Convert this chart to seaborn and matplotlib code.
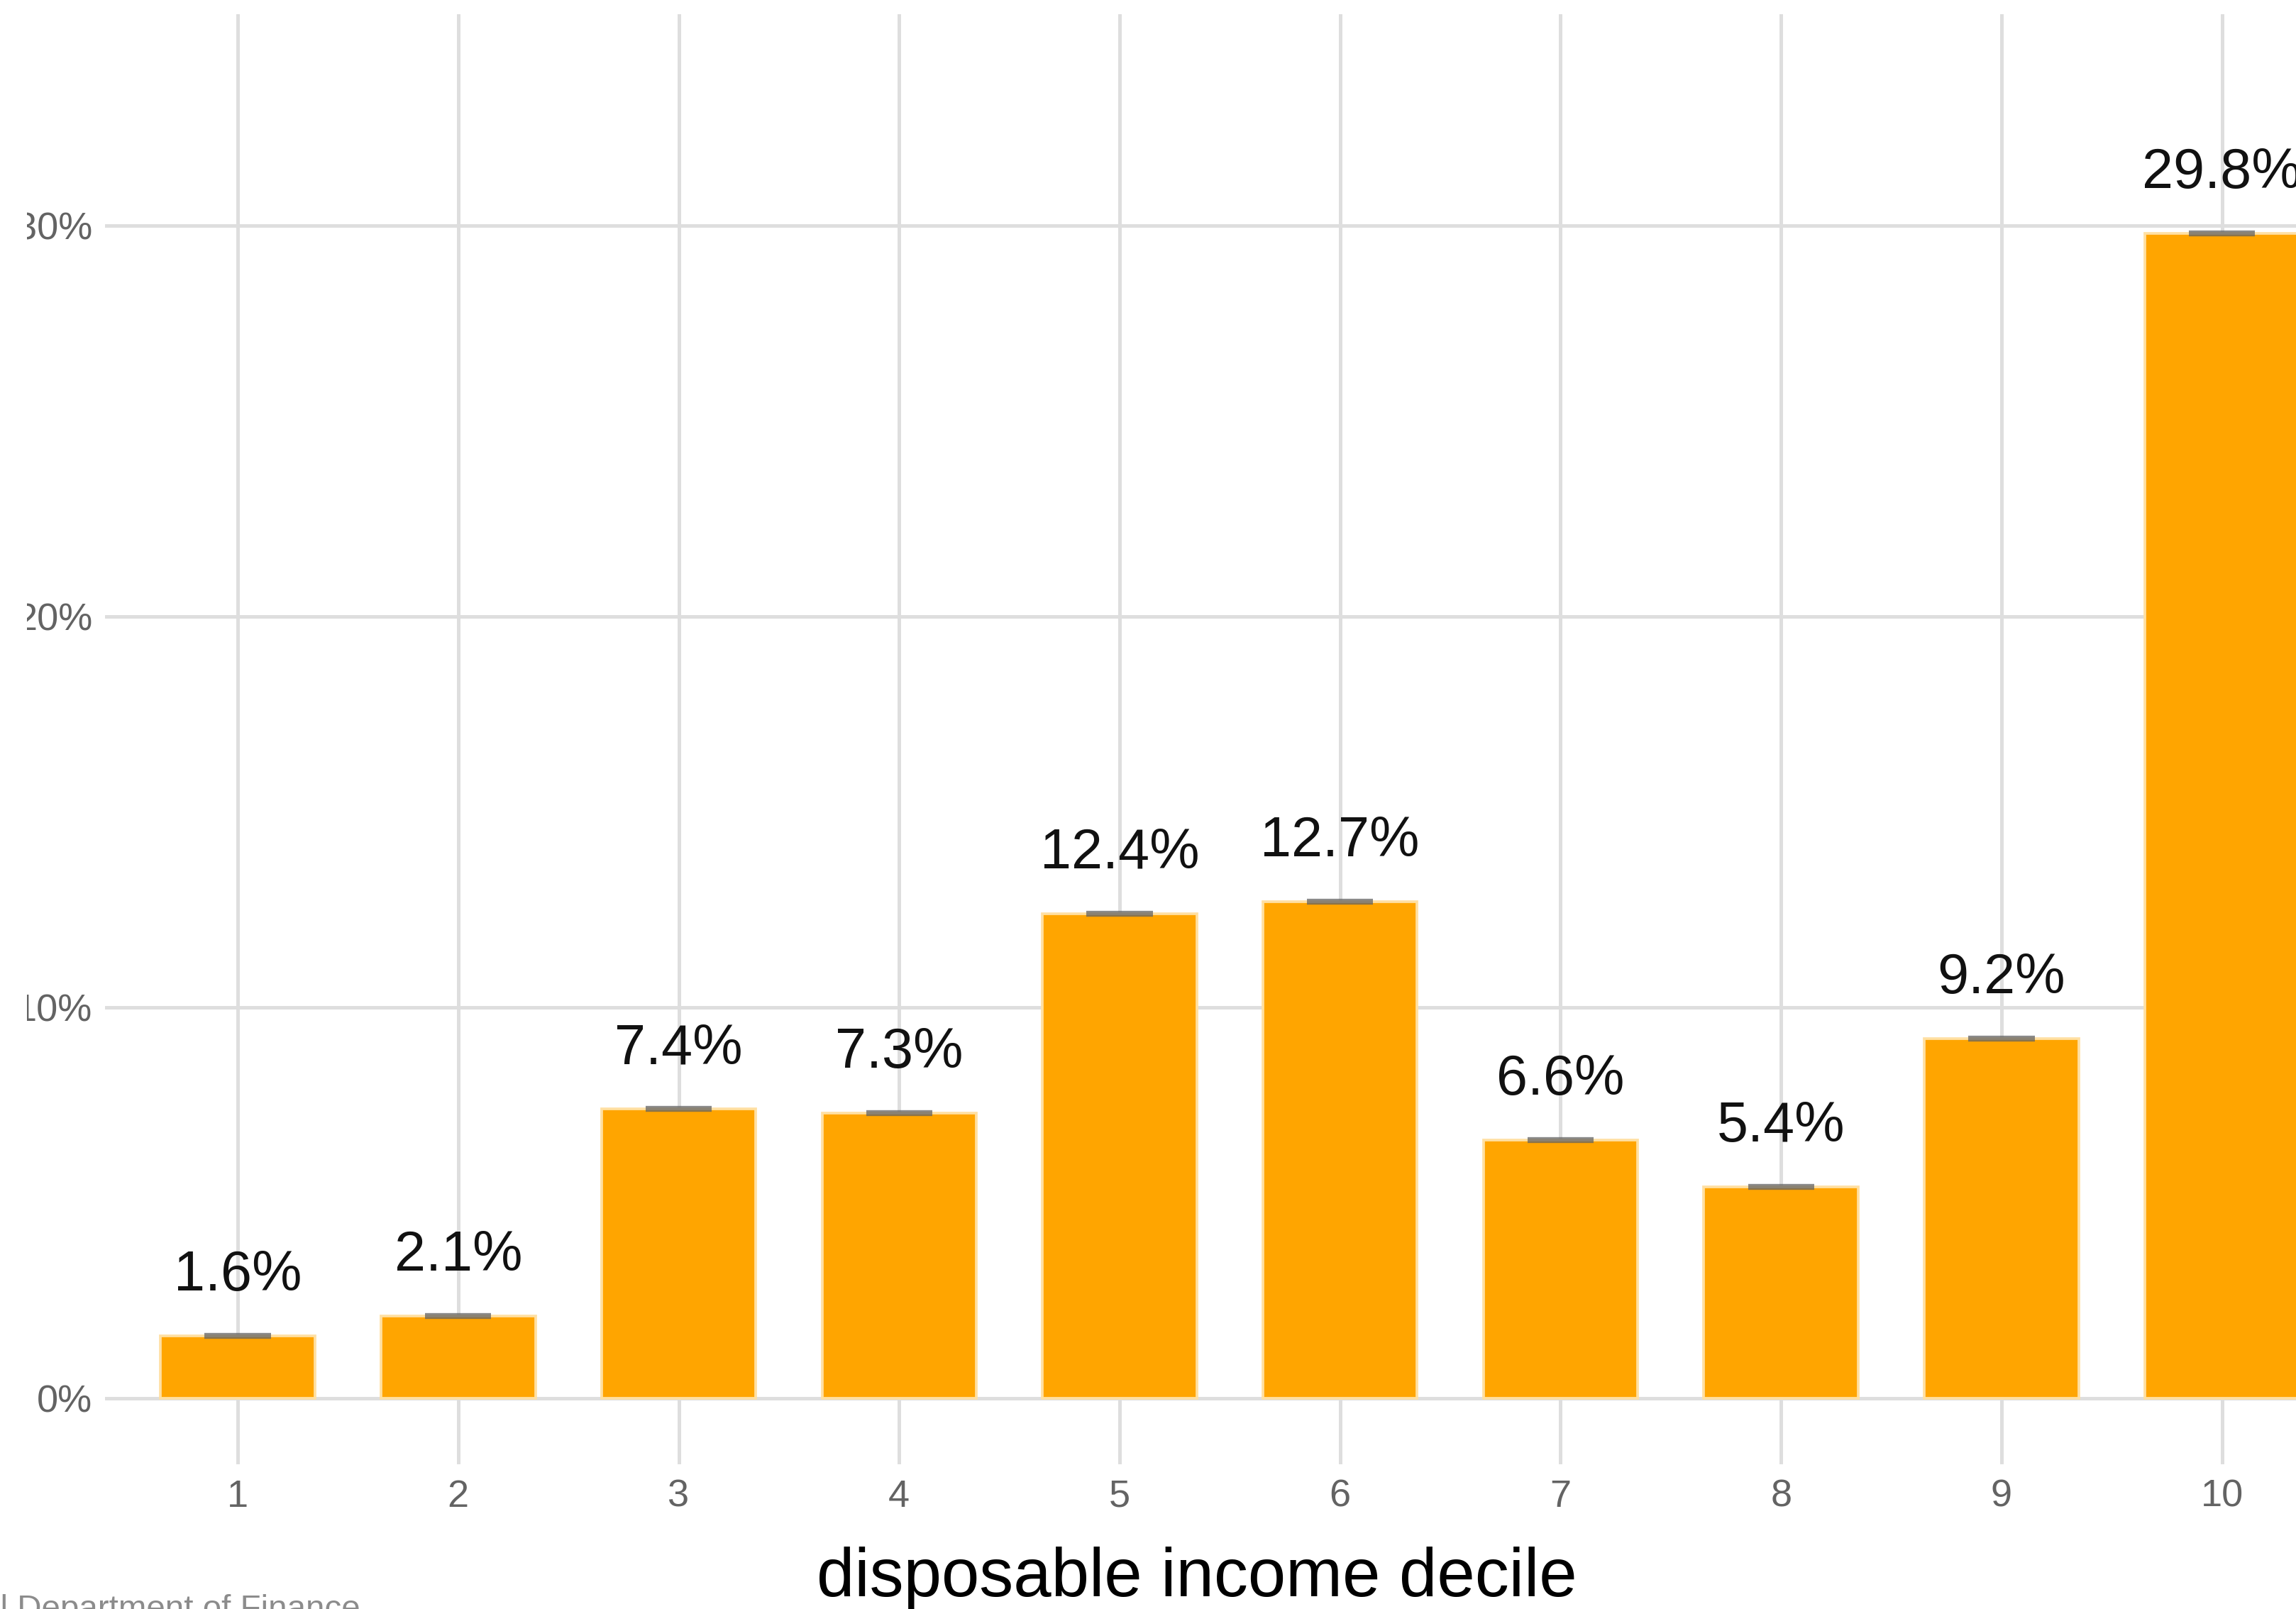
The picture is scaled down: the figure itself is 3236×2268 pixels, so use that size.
import numpy as np
import pandas as pd
import matplotlib
matplotlib.use("Agg")
import matplotlib.pyplot as plt
from matplotlib.ticker import PercentFormatter, FixedLocator
from matplotlib.transforms import Bbox, TransformedBbox
import seaborn as sns

# Share of total (%) by disposable income decile
deciles = ["1", "2", "3", "4", "5", "6", "7", "8", "9", "10"]
share = [1.6, 2.1, 7.4, 7.3, 12.4, 12.7, 6.6, 5.4, 9.2, 29.8]
y_ticks = [0, 10, 20, 30]
x_title = "disposable income decile"
source_note = "Federal Department of Finance"

df = pd.DataFrame({"decile": deciles, "share": share})

W, H, DPI = 3237, 2268, 300
sns.set_style("whitegrid")
plt.rcParams["font.family"] = ["Liberation Sans", "DejaVu Sans"]

grid_col = "#dedede"
fig = plt.figure(figsize=(W / DPI, H / DPI), dpi=DPI)
ax = fig.add_axes([148 / W, (H - 2064) / H, (W - 148) / W, (2064 - 20) / H])

sns.barplot(data=df, x="decile", y="share", order=deciles, color="#FFA500",
            saturation=1, width=0.7, edgecolor="#ffe0a3", linewidth=0.9,
            errorbar=None, ax=ax, zorder=2)

# small grey cap on top of each bar
pos = np.arange(len(deciles))
vals = np.asarray(share)
ax.hlines(vals, pos - 0.15, pos + 0.15, colors=[(0.39, 0.39, 0.39, 0.75)],
          linewidth=2.0, zorder=3)

# value labels
for p, v in zip(pos, vals):
    ax.annotate(f"{v:.1f}%", (p, v), xytext=(0, 15.4), textcoords="offset points",
                ha="center", va="baseline", fontsize=19, color="#111111", zorder=4)

ax.set_xlim(-0.602, 9.339)
ax.set_ylim(-1.688, 35.41)
ax.yaxis.set_major_locator(FixedLocator(y_ticks))
ax.yaxis.set_major_formatter(PercentFormatter(xmax=100, decimals=0))

ax.grid(True, axis="both", color=grid_col, linewidth=1.2, zorder=0)
ax.set_axisbelow(True)
for s in ax.spines.values():
    s.set_visible(False)
ax.tick_params(axis="both", length=0, labelsize=13, labelcolor="#636363")
ax.tick_params(axis="x", pad=5)
ax.tick_params(axis="y", pad=4.3)
ax.set_ylabel("")

ax.set_xlabel(x_title, fontsize=23, color="black")
ax.xaxis.set_label_coords(1687 / W, (H - 2250) / H, transform=fig.transFigure)
ax.xaxis.label.set_va("baseline")

# left margin of the plotting region trims the y labels
clip = TransformedBbox(Bbox([[38 / W, 0], [1, 1]]), fig.transFigure)
for lab in ax.get_yticklabels():
    lab.set_clip_box(clip)
    lab.set_clip_on(True)

fig.text(508 / W, (H - 2281) / H, source_note, ha="right", va="baseline",
         fontsize=11.4, color="#8c8c8c")

fig.savefig("out.png", dpi=DPI, facecolor="white")
